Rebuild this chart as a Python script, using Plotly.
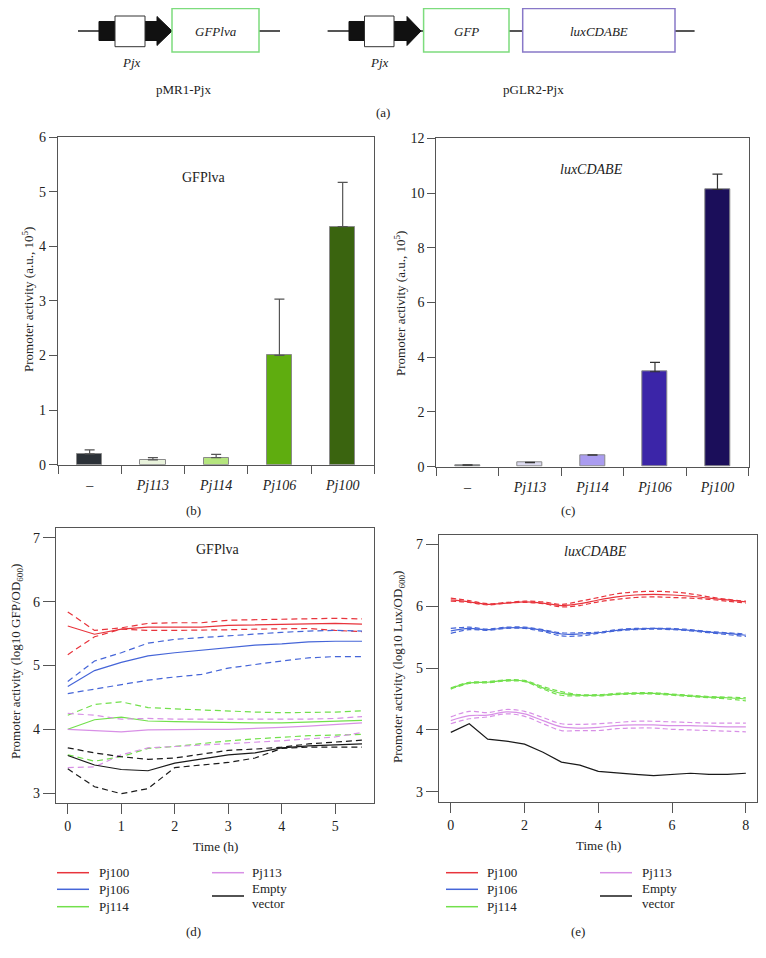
import plotly.graph_objects as go

# page body has an 8px margin; the figure fills the rest of the 766x958 window
OFF = 8
W, H = 750, 940
FONT = "Liberation Serif"

# ---------------- data ----------------
categories = ["–", "Pj113", "Pj114", "Pj106", "Pj100"]

gfp_values = [0.20, 0.09, 0.13, 2.00, 4.36]
gfp_err = [0.07, 0.04, 0.06, 1.03, 0.81]
lux_values = [0.06, 0.15, 0.42, 3.47, 10.13]
lux_err = [0.01, 0.01, 0.01, 0.34, 0.56]

gfp_bar_colors = ["#2b3137", "#e9f3dc", "#b5e57e", "#5fad0f", "#3a640f"]
lux_bar_colors = ["#1e2a35", "#dcdaf0", "#aa9cf0", "#3b25a8", "#1b0e5a"]

series_names = ["Pj100", "Pj106", "Pj114", "Pj113", "Empty vector"]
series_colors = ["#e8343c", "#4565d8", "#72e04c", "#d890e6", "#1a1a1a"]

time_d = [0, 0.5, 1, 1.5, 2, 2.5, 3, 3.5, 4, 4.5, 5, 5.5]
gfp_mean = {
    "Pj100": [5.62, 5.49, 5.57, 5.60, 5.60, 5.60, 5.63, 5.64, 5.65, 5.66, 5.66, 5.65],
    "Pj106": [4.67, 4.92, 5.05, 5.15, 5.20, 5.24, 5.29, 5.32, 5.34, 5.37, 5.38, 5.38],
    "Pj114": [4.00, 4.15, 4.19, 4.13, 4.12, 4.11, 4.10, 4.10, 4.10, 4.11, 4.12, 4.14],
    "Pj113": [4.00, 3.98, 3.96, 3.99, 4.00, 4.00, 4.00, 4.01, 4.03, 4.05, 4.08, 4.10],
    "Empty vector": [3.59, 3.44, 3.37, 3.35, 3.47, 3.54, 3.60, 3.63, 3.71, 3.74, 3.76, 3.77],
}
gfp_upper = {
    "Pj100": [5.84, 5.55, 5.59, 5.66, 5.67, 5.67, 5.71, 5.72, 5.73, 5.74, 5.74, 5.73],
    "Pj106": [4.75, 5.07, 5.20, 5.35, 5.41, 5.44, 5.47, 5.50, 5.52, 5.54, 5.55, 5.54],
    "Pj114": [4.22, 4.39, 4.43, 4.34, 4.32, 4.30, 4.28, 4.27, 4.26, 4.26, 4.27, 4.29],
    "Pj113": [4.25, 4.22, 4.16, 4.17, 4.16, 4.16, 4.15, 4.15, 4.15, 4.16, 4.17, 4.20],
    "Empty vector": [3.71, 3.63, 3.57, 3.53, 3.55, 3.61, 3.67, 3.69, 3.72, 3.77, 3.80, 3.83],
}
gfp_lower = {
    "Pj100": [5.17, 5.45, 5.57, 5.55, 5.55, 5.55, 5.56, 5.57, 5.58, 5.58, 5.55, 5.53],
    "Pj106": [4.56, 4.63, 4.70, 4.77, 4.82, 4.86, 4.96, 5.02, 5.07, 5.12, 5.14, 5.14],
    "Pj114": [3.60, 3.50, 3.57, 3.70, 3.73, 3.78, 3.82, 3.85, 3.88, 3.90, 3.91, 3.92],
    "Pj113": [3.40, 3.41, 3.60, 3.71, 3.73, 3.75, 3.78, 3.80, 3.82, 3.85, 3.88, 3.95],
    "Empty vector": [3.38, 3.10, 2.99, 3.07, 3.40, 3.44, 3.48, 3.55, 3.70, 3.72, 3.72, 3.72],
}

time_e = [0, 0.5, 1, 1.5, 2, 2.5, 3, 3.5, 4, 4.5, 5, 5.5, 6, 6.5, 7, 7.5, 8]
lux_mean = {
    "Pj100": [6.10, 6.07, 6.03, 6.05, 6.07, 6.05, 6.01, 6.04, 6.10, 6.15, 6.18, 6.19, 6.18, 6.16, 6.13, 6.10, 6.07],
    "Pj106": [5.60, 5.64, 5.62, 5.65, 5.65, 5.61, 5.55, 5.55, 5.57, 5.61, 5.63, 5.64, 5.63, 5.61, 5.58, 5.56, 5.53],
    "Pj114": [4.67, 4.76, 4.77, 4.80, 4.79, 4.68, 4.59, 4.56, 4.56, 4.58, 4.59, 4.59, 4.57, 4.55, 4.53, 4.52, 4.50],
    "Pj113": [4.15, 4.23, 4.24, 4.29, 4.26, 4.15, 4.05, 4.03, 4.04, 4.07, 4.08, 4.08, 4.07, 4.07, 4.06, 4.05, 4.05],
    "Empty vector": [3.96, 4.10, 3.85, 3.82, 3.77, 3.64, 3.48, 3.43, 3.33, 3.30, 3.28, 3.26, 3.28, 3.30, 3.28, 3.28, 3.30],
}
lux_upper = {
    "Pj100": [6.13, 6.09, 6.04, 6.06, 6.08, 6.07, 6.03, 6.08, 6.14, 6.20, 6.23, 6.24, 6.23, 6.20, 6.15, 6.11, 6.08],
    "Pj106": [5.64, 5.66, 5.63, 5.66, 5.66, 5.62, 5.57, 5.57, 5.58, 5.62, 5.64, 5.64, 5.64, 5.62, 5.59, 5.57, 5.55],
    "Pj114": [4.68, 4.77, 4.78, 4.81, 4.80, 4.70, 4.62, 4.57, 4.57, 4.59, 4.60, 4.60, 4.58, 4.56, 4.54, 4.53, 4.52],
    "Pj113": [4.21, 4.30, 4.28, 4.33, 4.30, 4.20, 4.10, 4.09, 4.10, 4.12, 4.14, 4.14, 4.13, 4.12, 4.11, 4.11, 4.11],
}
lux_lower = {
    "Pj100": [6.08, 6.06, 6.02, 6.05, 6.06, 6.04, 5.99, 6.01, 6.07, 6.11, 6.14, 6.15, 6.14, 6.13, 6.11, 6.08, 6.05],
    "Pj106": [5.56, 5.62, 5.61, 5.64, 5.64, 5.59, 5.52, 5.52, 5.56, 5.60, 5.62, 5.63, 5.62, 5.60, 5.57, 5.54, 5.51],
    "Pj114": [4.66, 4.75, 4.76, 4.79, 4.78, 4.66, 4.56, 4.55, 4.55, 4.57, 4.58, 4.58, 4.56, 4.54, 4.52, 4.50, 4.47],
    "Pj113": [4.10, 4.18, 4.21, 4.26, 4.22, 4.10, 3.99, 3.99, 3.99, 4.02, 4.03, 4.03, 4.01, 4.00, 3.99, 3.98, 3.97],
}


# ---------------- helpers (window pixel -> paper) ----------------
def px(x):
    return (x - OFF) / W


def py(y):
    return 1 - (y - OFF) / H


fig = go.Figure()
xpos = list(range(len(categories)))

# (b) bars
fig.add_trace(go.Bar(
    x=xpos, y=gfp_values, width=0.4, xaxis="x", yaxis="y",
    marker=dict(color=gfp_bar_colors, line=dict(color="#8a8a8a", width=1)),
    error_y=dict(type="data", array=gfp_err, arrayminus=[0] * 5, symmetric=False,
                 color="#555555", thickness=1.2, width=5),
    showlegend=False))
# (c) bars
fig.add_trace(go.Bar(
    x=xpos, y=lux_values, width=0.4, xaxis="x2", yaxis="y2",
    marker=dict(color=lux_bar_colors, line=dict(color="#8a8a8a", width=1)),
    error_y=dict(type="data", array=lux_err, arrayminus=[0] * 5, symmetric=False,
                 color="#333333", thickness=1.2, width=5),
    showlegend=False))

# (d) lines
for name, col in zip(series_names, series_colors):
    for band in (gfp_upper, gfp_lower):
        fig.add_trace(go.Scatter(x=time_d, y=band[name], mode="lines", xaxis="x3", yaxis="y3",
                                 line=dict(color=col, width=1.2, dash="6px,4px"), showlegend=False))
    fig.add_trace(go.Scatter(x=time_d, y=gfp_mean[name], mode="lines", xaxis="x3", yaxis="y3",
                             line=dict(color=col, width=1.2), showlegend=False))

# (e) lines
for name, col in zip(series_names, series_colors):
    if name in lux_upper:
        for band in (lux_upper, lux_lower):
            fig.add_trace(go.Scatter(x=time_e, y=band[name], mode="lines", xaxis="x4", yaxis="y4",
                                     line=dict(color=col, width=1.2, dash="5px,3px", shape="spline"),
                                     showlegend=False))
    fig.add_trace(go.Scatter(x=time_e, y=lux_mean[name], mode="lines", xaxis="x4", yaxis="y4",
                             line=dict(color=col, width=1.2,
                                       shape="spline" if name != "Empty vector" else "linear"),
                             showlegend=False))

tickfont = dict(family=FONT, size=14, color="#222")
axcommon = dict(showline=True, linecolor="#555", linewidth=1.2, mirror=True, showgrid=False,
                zeroline=False, ticks="outside", tickcolor="#555", tickfont=tickfont,
                automargin=False)

bar_x = dict(axcommon, range=[-0.5, 4.5], tickmode="array", tickvals=xpos, ticktext=categories,
             tickfont=dict(family=FONT, size=14, color="#222", style="italic"),
             ticklen=7, tickcolor="rgba(0,0,0,0)",
             minor=dict(tickmode="array", tickvals=[i - 0.5 for i in range(len(categories) + 1)],
                        ticks="outside", ticklen=8, tickcolor="#555", showgrid=False))

fig.update_layout(
    width=W, height=H, margin=dict(l=0, r=0, t=0, b=0),
    paper_bgcolor="white", plot_bgcolor="white",
    font=dict(family=FONT, size=13, color="#222"),
    bargap=0,
    xaxis=dict(bar_x, domain=[px(58), px(374.3)], anchor="y"),
    yaxis=dict(axcommon, domain=[py(464.7), py(137)], range=[0, 6], dtick=1, ticklen=8, anchor="x"),
    xaxis2=dict(bar_x, domain=[px(436.3), px(748.7)], anchor="y2"),
    yaxis2=dict(axcommon, domain=[py(466.7), py(138.3)], range=[0, 12], dtick=2, ticklen=8, anchor="x2"),
    xaxis3=dict(axcommon, domain=[px(56), px(374.3)], range=[-0.22, 5.73], dtick=1, ticklen=10, anchor="y3"),
    yaxis3=dict(axcommon, domain=[py(803.3), py(527.7)], range=[2.84, 7.16], dtick=1, ticklen=12, anchor="x3"),
    xaxis4=dict(axcommon, domain=[px(439), px(757.3)], range=[-0.32, 8.31], dtick=2, ticklen=10, anchor="y4"),
    yaxis4=dict(axcommon, domain=[py(801.7), py(535)], range=[2.84, 7.15], dtick=1, ticklen=12, anchor="x4"),
)

shapes = []
ann = []


def text(x, y, t, size=13, angle=0, xanchor="center", italic=False):
    ann.append(dict(x=px(x), y=py(y), xref="paper", yref="paper", text=t, showarrow=False,
                    font=dict(family=FONT, size=size, color="#222",
                              style="italic" if italic else "normal"),
                    textangle=angle, xanchor=xanchor, yanchor="middle"))


def rect(x0, y0, x1, y1, line, fill="white", lw=1.5):
    shapes.append(dict(type="rect", xref="paper", yref="paper", x0=px(x0), x1=px(x1),
                       y0=py(y1), y1=py(y0), line=dict(color=line, width=lw), fillcolor=fill))


def hline(x0, x1, y, color, lw=2):
    shapes.append(dict(type="line", xref="paper", yref="paper", x0=px(x0), x1=px(x1),
                       y0=py(y), y1=py(y), line=dict(color=color, width=lw)))


def arrow(x0, xb, xt, ymid):
    pts = [(x0, ymid - 9.5), (xb, ymid - 9.5), (xb, ymid - 14.5), (xt, ymid), (xb, ymid + 14.5),
           (xb, ymid + 9.5), (x0, ymid + 9.5)]
    path = "M " + " L ".join(f"{px(a):.5f},{py(b):.5f}" for a, b in pts) + " Z"
    shapes.append(dict(type="path", xref="paper", yref="paper", path=path,
                       fillcolor="#111", line=dict(color="#111", width=1)))


# (a) construct diagrams
hline(78, 280, 31, "#555")
arrow(99, 157, 172, 31)
rect(115, 16, 145, 46.7, "#333", lw=1)
rect(172, 8.5, 259, 52, "#7ddc7d")
text(215.5, 31, "GFPlva", italic=True)
text(131, 62, "Pjx", italic=True)
text(183, 89, "pMR1-Pjx")

hline(327.6, 694.6, 31, "#555")
arrow(349, 407, 421, 31)
rect(364.5, 16, 394, 46.7, "#333", lw=1)
rect(423.6, 8.5, 509, 52, "#7ddc7d")
rect(522.7, 8.5, 675, 52, "#8878c8")
text(466, 31, "GFP", italic=True)
text(599, 31, "luxCDABE", italic=True)
text(379, 62, "Pjx", italic=True)
text(533, 89, "pGLR2-Pjx")
text(383, 113, "(a)")

# panel titles & labels
text(204, 178, "GFPlva", size=14)
text(591, 170, "luxCDABE", size=14, italic=True)
text(28, 300, "Promoter activity (a.u., 10<sup>5</sup>)", size=13, angle=-90)
text(400, 303, "Promoter activity (a.u., 10<sup>5</sup>)", size=13, angle=-90)
text(193, 510.7, "(b)")
text(568, 510, "(c)")

text(218, 549, "GFPlva", size=14)
text(595, 551.7, "luxCDABE", size=14, italic=True)
text(16, 662, "Promoter activity (log10 GFP/OD<sub>600</sub>)", size=13, angle=-90)
text(398, 667, "Promoter activity (log10 Lux/OD<sub>600</sub>)", size=13, angle=-90)
text(215, 846.7, "Time (h)")
text(598, 845, "Time (h)")

# legends
for (lx, tx, l2x, t2x) in [(57, 97, 212, 250), (446, 485, 600, 640)]:
    rows = [872.7, 889.3, 906.7]
    for name, col, yy in zip(series_names[:3], series_colors[:3], rows):
        hline(lx, lx + 32, yy, col, lw=1.5)
        text(tx, yy, name, xanchor="left")
    hline(l2x, l2x + 32, 872.7, series_colors[3], lw=1.5)
    text(t2x, 872.7, series_names[3], xanchor="left")
    hline(l2x, l2x + 32, 896, series_colors[4], lw=1.5)
    text(t2x, 888, series_names[4].split(" ")[0], xanchor="left")
    text(t2x, 903.5, series_names[4].split(" ")[1], xanchor="left")

text(193, 931.7, "(d)")
text(578, 931.7, "(e)")

fig.update_layout(shapes=shapes, annotations=ann)
fig.write_html("out.html")
